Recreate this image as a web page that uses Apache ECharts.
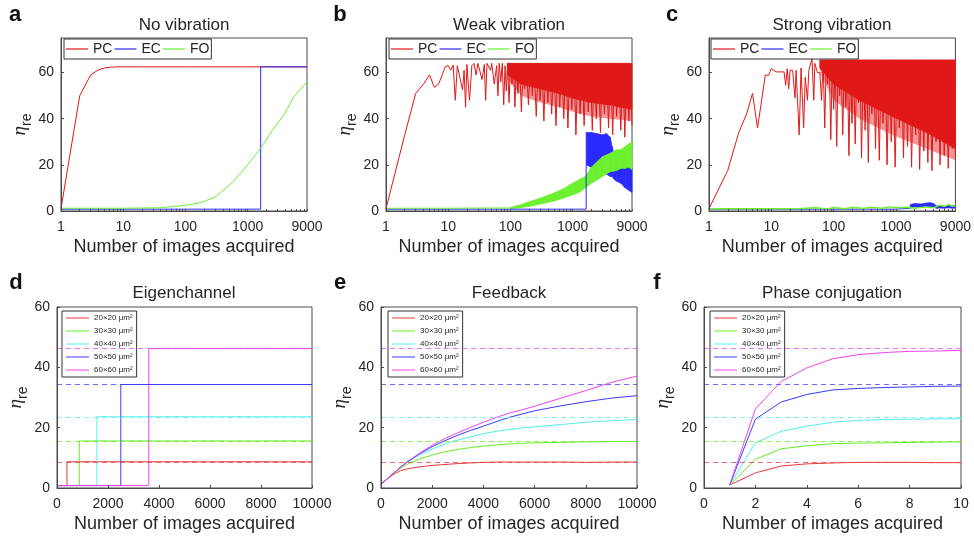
<!DOCTYPE html>
<html lang="en">
<head>
<meta charset="UTF-8">
<title>eta_re vs number of images</title>
<style>html,body{margin:0;padding:0;background:#fff;}</style>
</head>
<body>
<div id="main" style="width:974px;height:539px;"></div>
<script src="https://cdn.jsdelivr.net/npm/echarts@6/dist/echarts.min.js"></script>
<script>
// ---- values ----
var methods = ['PC', 'EC', 'FO'];
var sizes = ['20×20 μm²', '30×30 μm²', '40×40 μm²', '50×50 μm²', '60×60 μm²'];
var optimum = [8.7, 15.6, 23.6, 34.3, 46.2];

var logTickValues = [1,2,3,4,5,6,7,8,9,10,20,30,40,50,60,70,80,90,100,200,300,400,500,600,700,800,900,1000,2000,3000,4000,5000,6000,7000,8000,9000];
var logLabelValues = [1, 10, 100, 1000, 9000];
var topYTicks = [0, 20, 40, 60];

// a: no vibration
var aPCx = [1, 2, 3, 4, 5, 6, 7, 8, 10, 20, 100, 1000, 9000];
var aPCy = [1, 50, 59, 61.2, 62, 62.3, 62.4, 62.5, 62.5, 62.5, 62.5, 62.5, 62.5];
var aECx = [1, 1620, 1620, 9000];
var aECy = [0.8, 0.8, 62.5, 62.5];
var aFOx = [1, 10, 40, 100, 170, 300, 600, 1000, 1600, 2500, 3800, 5500, 9000];
var aFOy = [1.2, 1.2, 1.4, 2.5, 3.5, 6, 13, 20, 27, 35, 41.5, 49.5, 56];

// b: weak vibration (PC trace: rise, then fluctuation between the top level and dips)
var bPCx = [1, 2, 3, 4, 5, 6, 7, 8, 9, 10, 11, 12, 13, 14, 15, 17, 18, 19, 20, 22, 24, 26, 28, 30, 35, 38, 40, 42, 48, 50, 55,
  60, 63, 66, 70, 74, 78, 82, 86, 90, 95, 100, 106, 112, 118, 125, 132, 140, 150, 160, 170, 180, 195, 210, 225, 240, 260, 280, 300,
  320, 345, 370, 400, 430, 460, 500, 540, 580, 620, 670, 720, 780, 840, 900, 970, 1050, 1130, 1220, 1320, 1420, 1530, 1650, 1780,
  1920, 2070, 2230, 2400, 2600, 2800, 3000, 3250, 3500, 3780, 4080, 4400, 4750, 5100, 5500, 5950, 6400, 6900, 7450, 8000, 8600, 9000];
var bPCy = [1, 33, 51, 55, 59, 53.6, 55, 59, 62.6, 63, 61, 63.3, 48, 63, 62.5, 52.5, 61, 45, 63.5, 48, 63, 64, 59, 64, 57, 63.5, 48, 64, 61, 64, 55,
  63, 50, 64, 56, 64, 46, 63, 52, 64, 47, 64, 55, 63, 45, 64, 51, 64, 43, 63, 53, 64, 46, 64, 50, 63, 41, 64, 48,
  64, 39, 63, 47, 64, 42, 64, 37, 63, 45, 64, 40, 64, 36, 63, 44, 64, 33, 64, 42, 63, 37, 64, 43,
  64, 35, 63, 40, 64, 34, 64, 42, 63, 36, 64, 33, 64, 41, 63, 35, 64, 32, 64, 39, 63, 37];
var bPCtop = 64;
var bPCbandX = [90, 150, 300, 600, 1000, 2000, 4000, 9000];
var bPCsolidLo = [59, 55, 53, 51, 49, 47, 46, 44];
var bPChazeLo = [57, 50, 47, 45, 43, 41, 40, 39];
var bECx = [1, 1650, 1650];
var bECy = [0.8, 0.8, 20];
var bECbandX = [1650, 2000, 2500, 3000, 3500, 4000, 4300, 4600, 5000, 6000, 7000, 8000, 9000];
var bECbandLo = [20, 19, 18, 17, 16, 15, 15, 14, 13, 12, 10, 9, 8];
var bECbandHi = [34, 34, 33.5, 33, 33.5, 32, 28, 25, 24, 22, 21, 20, 19];
var bFOx = [1, 10, 50, 100];
var bFOy = [1.2, 1.2, 1.3, 1.3];
var bFObandX = [100, 150, 200, 300, 400, 500, 700, 1000, 1300, 1600, 2000, 2500, 3000, 4000, 5000, 6000, 7000, 8000, 9000];
var bFObandLo = [1, 1.5, 2, 3, 3.8, 4.3, 5.5, 7, 8.2, 10, 12, 13.5, 15, 17, 17.5, 18.5, 18.5, 19, 18];
var bFObandHi = [1.6, 2.8, 4, 5.5, 6.8, 7.8, 9.5, 12, 13.8, 15, 19, 21.5, 23.5, 25, 26.5, 26.5, 28, 29, 30];

// c: strong vibration
var cPCx = [1, 2, 3, 4, 5, 6, 7, 8, 9, 10, 12, 16, 17, 18, 19, 20, 22, 24, 25, 28, 30, 33, 35, 38, 40, 45, 48, 50, 55,
  60, 64, 68, 72, 76, 80, 85, 90, 95, 100, 106, 112, 118, 125, 132, 140, 148, 157, 166, 176, 186, 197, 209, 222, 235, 250, 265, 280,
  300, 320, 340, 360, 385, 410, 440, 470, 500, 540, 580, 620, 670, 720, 780, 840, 900, 970, 1050, 1130, 1220, 1320, 1420, 1530,
  1650, 1780, 1920, 2070, 2230, 2400, 2600, 2800, 3000, 3250, 3500, 3780, 4080, 4400, 4750, 5100, 5500, 5950, 6400, 6900, 7450,
  8000, 8600, 9000];
var cPCy = [1, 17.6, 34, 42, 51, 36, 48, 59, 58.8, 61.7, 60.3, 60.3, 54.5, 61.7, 53, 61, 61, 49, 61, 33, 62, 36, 58, 48, 61, 66, 48, 64, 60,
  60, 48, 65, 36, 64, 55, 65, 31, 65, 44, 64, 28, 65, 50, 65, 33, 64, 45, 65, 24, 65, 38, 64, 29, 65, 47, 65, 23,
  64, 35, 65, 21, 65, 42, 64, 27, 65, 22, 65, 38, 64, 20, 65, 30, 65, 19, 64, 36, 65, 23, 65, 28,
  64, 19, 65, 33, 65, 18, 64, 26, 65, 21, 65, 17.5, 64, 30, 65, 20, 65, 24, 64, 18.5, 65,
  27, 65, 23];
var cPCtop = 65.5;
var cPCbandX = [60, 100, 260, 880, 3100, 9000];
var cPCsolidLo = [62, 55, 48, 41, 34, 27];
var cPChazeLo = [60, 48, 40, 33, 27, 22];
var cECx = [1, 10, 100, 1000, 1700];
var cECy = [0.8, 0.8, 0.8, 0.8, 1.2];
var cECbandX = [1700, 2000, 2500, 3000, 3500, 4000, 4500, 5000, 6000, 7000, 8000, 9000];
var cECbandLo = [1.2, 1.8, 1.5, 2, 1.8, 1.6, 1.2, 1.3, 1.2, 1.4, 1.2, 1.3];
var cECbandHi = [2.8, 3.2, 3, 3.4, 3.6, 3.2, 2.2, 2.4, 2, 2.6, 2.2, 2.4];
var cFOx = [1, 10, 30, 50, 80, 100, 150, 200, 300, 400, 600, 800, 1000, 1500, 2000, 3000, 4000, 5000, 6000, 7000, 8000, 9000];
var cFOy = [1, 1, 1.1, 1.4, 0.9, 1.5, 1, 1.6, 1.1, 1.7, 1.2, 1.8, 1.4, 1.6, 1.2, 1.8, 1.4, 2.5, 2, 2.8, 2, 2.3];

// d: eigenchannel (step at the jump)
var dStart = 0.8;
var dJump = [391, 874, 1565, 2503, 3599];
var dLevel = [8.7, 15.6, 23.6, 34.3, 46.2];

// e: feedback
var eX = [0, 250, 500, 750, 1000, 1500, 2000, 2500, 3000, 3500, 4000, 4500, 5000, 5500, 6000, 7000, 8000, 9000, 10000];
var eY = [
  [1.3, 3, 4.6, 5.7, 6.3, 7, 7.5, 7.8, 8.1, 8.3, 8.5, 8.6, 8.6, 8.6, 8.6, 8.6, 8.5, 8.6, 8.6],
  [1.3, 3.1, 4.9, 6.5, 7.8, 9.6, 10.9, 12, 12.8, 13.4, 13.9, 14.3, 14.6, 14.8, 15, 15.1, 15.3, 15.4, 15.4],
  [1.3, 3.1, 5, 6.8, 8.4, 10.9, 12.9, 14.6, 15.9, 17, 18, 18.8, 19.4, 19.9, 20.3, 21, 21.8, 22.3, 22.7],
  [1.3, 3.1, 5, 6.8, 8.5, 11.3, 13.7, 15.7, 17.5, 19.1, 20.5, 22, 23.4, 24.5, 25.6, 27.2, 28.6, 29.8, 30.6],
  [1.3, 3.1, 5, 6.9, 8.6, 11.5, 14.2, 16.4, 18.3, 20.1, 21.8, 23.4, 24.8, 25.9, 27.1, 29.7, 32.3, 35, 37.1]
];

// f: phase conjugation
var fX = [1, 2, 3, 4, 5, 6, 7, 8, 9, 10];
var fY = [
  [1, 5, 7.3, 8, 8.3, 8.5, 8.5, 8.5, 8.4, 8.4],
  [1, 9.5, 13, 14, 14.7, 14.9, 15, 15.1, 15.2, 15.3],
  [1, 15, 18.8, 20.5, 21.8, 22.4, 22.7, 22.8, 22.9, 23],
  [1, 22.8, 28.5, 31, 32.5, 33, 33.3, 33.5, 33.7, 33.8],
  [1, 26.2, 35.3, 39.8, 42.8, 44.2, 44.9, 45.3, 45.4, 45.6]
];

// ---- styling ----
var RED = '#e01818', BLUE = '#2a2aff', GREEN = '#6cf030';
var sizeColors = ['#e83a3a', '#66ee22', '#55eeee', '#3a3aff', '#ee44ee'];
var TXT = '#262626', AXC = '#4a4a4a';
var FONT = '"Liberation Sans", Arial, sans-serif';

var grids = [
  {left: 61, top: 38, width: 246, height: 173},
  {left: 386, top: 38, width: 246, height: 173},
  {left: 709, top: 38, width: 247, height: 173},
  {left: 57, top: 307, width: 255, height: 181},
  {left: 381, top: 307, width: 256, height: 181},
  {left: 704, top: 307, width: 257, height: 181}
];
grids.forEach(function (g) {
  g.show = true; g.borderColor = AXC; g.borderWidth = 1; g.backgroundColor = '#fff'; g.containLabel = false;
});

var xName = 'Number of images acquired';

function baseAxis(gi) {
  return {
    gridIndex: gi, z: 5,
    axisLine: {show: true, onZero: false, lineStyle: {color: AXC, width: 1}},
    axisTick: {show: true, inside: true, length: 3, lineStyle: {color: AXC}},
    axisLabel: {color: TXT, fontSize: 14, fontFamily: FONT, formatter: function (v) { return String(Math.round(v * 100) / 100); }},
    splitLine: {show: false}
  };
}
function logX(gi) {
  var a = baseAxis(gi);
  a.type = 'log'; a.logBase = 10; a.min = 1; a.max = 9000;
  a.axisTick.customValues = logTickValues;
  a.axisTick.length = 2;
  a.axisLabel.customValues = logLabelValues;
  a.axisLabel.margin = 9;
  a.name = xName; a.nameLocation = 'middle'; a.nameGap = 27;
  a.nameTextStyle = {fontSize: 18, color: TXT, fontFamily: FONT};
  return a;
}
function linX(gi, max, interval) {
  var a = baseAxis(gi);
  a.type = 'value'; a.min = 0; a.max = max; a.interval = interval;
  a.axisLabel.margin = 9;
  a.name = xName; a.nameLocation = 'middle'; a.nameGap = 27;
  a.nameTextStyle = {fontSize: 18, color: TXT, fontFamily: FONT};
  return a;
}
function yAx(gi, max, custom) {
  var a = baseAxis(gi);
  a.type = 'value'; a.min = 0; a.max = max; a.interval = 20;
  if (custom) { a.axisLabel.customValues = custom; a.axisTick.customValues = custom; }
  a.axisLabel.margin = 7;
  a.name = '{e|η}{s|re}'; a.nameLocation = 'middle'; a.nameRotate = 90; a.nameGap = 27;
  a.nameTextStyle = {color: TXT, rich: {
    e: {fontSize: 19, fontFamily: '"Liberation Serif", serif', fontStyle: 'italic', color: TXT, verticalAlign: 'bottom', padding: [0, 0, 5, 0]},
    s: {fontSize: 14, fontFamily: FONT, color: TXT, verticalAlign: 'bottom'}
  }};
  return a;
}

function line(name, xs, ys, color, gi, extra) {
  var s = {
    type: 'line', name: name, xAxisIndex: gi, yAxisIndex: gi,
    data: xs.map(function (x, i) { return [x, ys[i]]; }),
    symbol: 'none', animation: false, silent: true,
    lineStyle: {color: color, width: 1}, itemStyle: {color: color}
  };
  for (var k in extra) s[k] = extra[k];
  return s;
}
// filled envelope between lo and hi, drawn segment by segment through the axes
function band(xs, lo, hi, color, gi, opacity) {
  var rows = [];
  for (var i = 0; i < xs.length - 1; i++) {
    var h0 = typeof hi === 'number' ? hi : hi[i];
    var h1 = typeof hi === 'number' ? hi : hi[i + 1];
    rows.push([xs[i], xs[i + 1], lo[i], lo[i + 1], h0, h1]);
  }
  var op = opacity == null ? 1 : opacity;
  return {
    type: 'custom', xAxisIndex: gi, yAxisIndex: gi, silent: true, animation: false,
    encode: {x: [0, 1], y: [2, 3, 4, 5]},
    renderItem: function (params, api) {
      var pts = [
        api.coord([api.value(0), api.value(4)]),
        api.coord([api.value(1), api.value(5)]),
        api.coord([api.value(1), api.value(3)]),
        api.coord([api.value(0), api.value(2)])
      ];
      return {type: 'polygon', shape: {points: pts},
        style: {fill: color, stroke: op === 1 ? color : null, lineWidth: 0.8, opacity: op}};
    },
    data: rows
  };
}
function optimumLine(i) {
  return {
    silent: true, symbol: ['none', 'none'], label: {show: false}, animation: false,
    lineStyle: {type: [5, 4], width: 1, color: sizeColors[i], opacity: 0.75},
    data: [{yAxis: optimum[i]}]
  };
}

var series = [];
// a
series.push(line('PC', aPCx, aPCy, RED, 0));
series.push(line('EC', aECx, aECy, BLUE, 0));
series.push(line('FO', aFOx, aFOy, GREEN, 0));
// b
series.push(band(bPCbandX, bPChazeLo, bPCtop, RED, 1, 0.45));
series.push(band(bPCbandX, bPCsolidLo, bPCtop, RED, 1));
series.push(line('PC', bPCx, bPCy, RED, 1));
series.push(line('EC', bECx, bECy, BLUE, 1));
series.push(band(bECbandX, bECbandLo, bECbandHi, BLUE, 1));
series.push(line('FO', bFOx, bFOy, GREEN, 1));
series.push(band(bFObandX, bFObandLo, bFObandHi, GREEN, 1));
// c
series.push(band(cPCbandX, cPChazeLo, cPCtop, RED, 2, 0.45));
series.push(band(cPCbandX, cPCsolidLo, cPCtop, RED, 2));
series.push(line('PC', cPCx, cPCy, RED, 2));
series.push(line('EC', cECx, cECy, BLUE, 2));
series.push(band(cECbandX, cECbandLo, cECbandHi, BLUE, 2));
series.push(line('FO', cFOx, cFOy, GREEN, 2, {lineStyle: {color: GREEN, width: 1.4}}));
// d, e, f
sizes.forEach(function (name, i) {
  series.push(line(name, [0, dJump[i], 10000], [dStart, dLevel[i], dLevel[i]], sizeColors[i], 3,
    {step: 'end', markLine: optimumLine(i)}));
});
sizes.forEach(function (name, i) {
  series.push(line(name, eX, eY[i], sizeColors[i], 4, {markLine: optimumLine(i)}));
});
sizes.forEach(function (name, i) {
  series.push(line(name, fX, fY[i], sizeColors[i], 5, {markLine: optimumLine(i)}));
});

function topLegend(left, top) {
  return {
    data: methods, left: left, top: top, orient: 'horizontal', selectedMode: false,
    icon: 'rect', itemWidth: 22, itemHeight: 1.2, itemGap: 2, padding: [3, 2],
    backgroundColor: '#fff', borderColor: '#333', borderWidth: 1, borderRadius: 0,
    textStyle: {fontSize: 14, color: TXT, fontFamily: FONT}
  };
}
function sizeLegend(left, top) {
  return {
    data: sizes, left: left, top: top, orient: 'vertical', selectedMode: false,
    icon: 'rect', itemWidth: 23, itemHeight: 1, itemGap: 5, padding: [3, 4],
    backgroundColor: '#fff', borderColor: '#333', borderWidth: 1, borderRadius: 0,
    textStyle: {fontSize: 8, lineHeight: 8, color: TXT, fontFamily: FONT}
  };
}

var panelText = [
  ['a', 15, 15, 'No vibration', 184, 25],
  ['b', 340, 15, 'Weak vibration', 509, 25],
  ['c', 672, 15, 'Strong vibration', 832, 25],
  ['d', 16, 283, 'Eigenchannel', 184, 293],
  ['e', 340, 283, 'Feedback', 509, 293],
  ['f', 657, 283, 'Phase conjugation', 832, 293]
];
var graphics = [];
panelText.forEach(function (p) {
  graphics.push({type: 'text', x: p[1], y: p[2], z: 10, style: {text: p[0], fill: '#111',
    font: 'bold 22px ' + FONT, align: 'center', verticalAlign: 'middle'}});
  graphics.push({type: 'text', x: p[4], y: p[5], z: 10, style: {text: p[3], fill: TXT,
    font: '17px ' + FONT, align: 'center', verticalAlign: 'middle'}});
});

var chart = echarts.init(document.getElementById('main'));
chart.setOption({
  backgroundColor: '#fff',
  animation: false,
  textStyle: {fontFamily: FONT},
  grid: grids,
  xAxis: [logX(0), logX(1), logX(2), linX(3, 10000, 2000), linX(4, 10000, 2000), linX(5, 10, 2)],
  yAxis: [yAx(0, 75, topYTicks), yAx(1, 75, topYTicks), yAx(2, 75, topYTicks), yAx(3, 60), yAx(4, 60), yAx(5, 60)],
  legend: [topLegend(64, 39), topLegend(389, 39), topLegend(711, 39),
           sizeLegend(62, 311), sizeLegend(388, 311), sizeLegend(710, 311)],
  graphic: graphics,
  series: series
});
</script>
</body>
</html>
